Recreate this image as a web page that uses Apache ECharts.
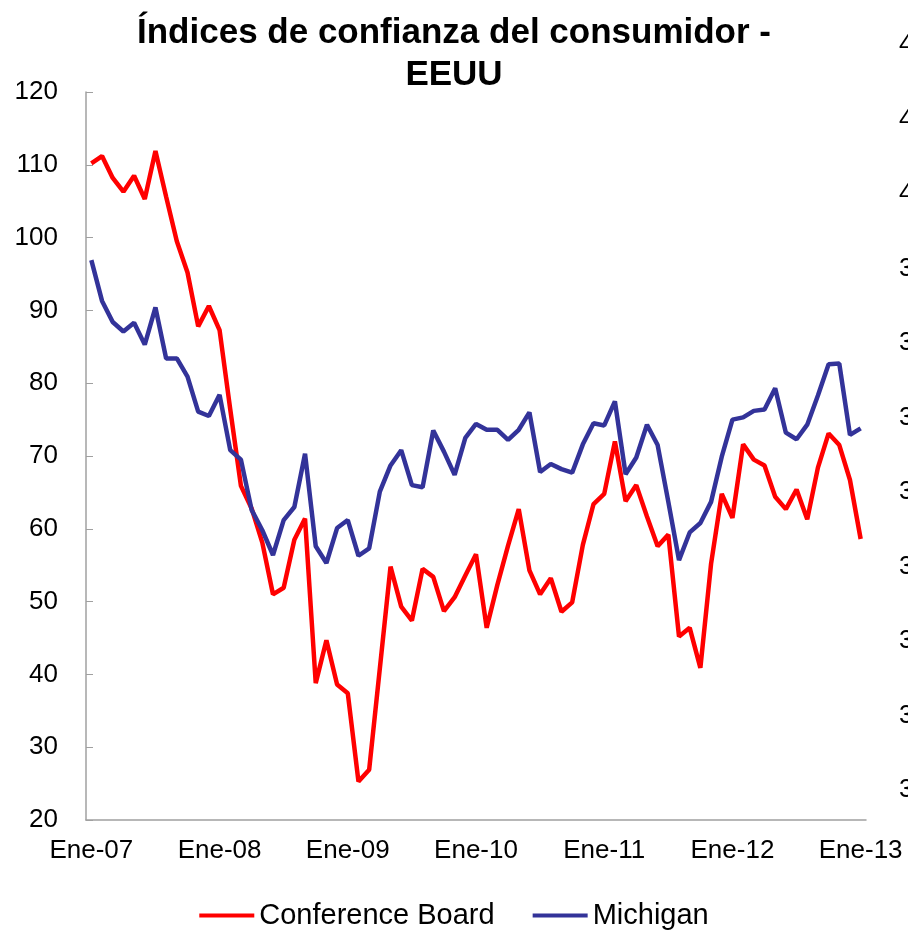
<!DOCTYPE html>
<html>
<head>
<meta charset="utf-8">
<title>Índices de confianza del consumidor - EEUU</title>
<script src="https://cdn.jsdelivr.net/npm/echarts@6/dist/echarts.min.js"></script>
<style>
  html, body { margin: 0; padding: 0; background: #fff; }
  #chart { width: 908px; height: 931px; }
</style>
</head>
<body>
<div id="chart"></div>
<script>
// meses de ene-07 a ene-13
var meses = ['Ene', 'Feb', 'Mar', 'Abr', 'May', 'Jun', 'Jul', 'Ago', 'Sep', 'Oct', 'Nov', 'Dic'];
var anios = ['07', '08', '09', '10', '11', '12', '13'];
var categorias = [];
anios.forEach(function (a) {
  meses.forEach(function (m) {
    categorias.push(m + '-' + a);
  });
});
categorias = categorias.slice(0, 73);

var conferenceBoard = [
  110.2, 111.2, 108.2, 106.3, 108.5, 105.3, 111.9, 105.6, 99.5, 95.2, 87.8, 90.6,
  87.3, 76.4, 65.9, 62.8, 58.1, 51.0, 51.9, 58.5, 61.4, 38.8, 44.7, 38.6,
  37.4, 25.3, 26.9, 40.8, 54.8, 49.3, 47.4, 54.5, 53.4, 48.7, 50.6, 53.6,
  56.5, 46.4, 52.3, 57.7, 62.7, 54.3, 51.0, 53.2, 48.6, 49.9, 57.8, 63.4,
  64.8, 72.0, 63.8, 66.0, 61.7, 57.6, 59.2, 45.2, 46.4, 40.9, 55.2, 64.8,
  61.5, 71.6, 69.5, 68.7, 64.4, 62.7, 65.4, 61.3, 68.4, 73.1, 71.5, 66.7,
  58.6
];

var michigan = [
  96.9, 91.3, 88.4, 87.1, 88.3, 85.3, 90.4, 83.4, 83.4, 80.9, 76.1, 75.5,
  78.4, 70.8, 69.5, 62.6, 59.8, 56.4, 61.2, 63.0, 70.3, 57.6, 55.3, 60.1,
  61.2, 56.3, 57.3, 65.1, 68.7, 70.8, 66.0, 65.7, 73.5, 70.6, 67.4, 72.5,
  74.4, 73.6, 73.6, 72.2, 73.6, 76.0, 67.8, 68.9, 68.2, 67.7, 71.6, 74.5,
  74.2, 77.5, 67.5, 69.8, 74.3, 71.5, 63.7, 55.7, 59.5, 60.8, 63.7, 69.9,
  75.0, 75.3, 76.2, 76.4, 79.3, 73.2, 72.3, 74.3, 78.3, 82.6, 82.7, 72.9,
  73.8
];

// etiquetas del grafico vecino que asoman cortadas por el borde derecho
var etiquetasVecino = ['42', '41', '40', '39', '38', '37', '36', '35', '34', '33', '32'];

var fuente = "'Liberation Sans', Arial, sans-serif";
var gris = '#a0a0a0';

var chart = echarts.init(document.getElementById('chart'), null, { renderer: 'canvas' });

var textosVecino = etiquetasVecino.map(function (t, i) {
  return {
    type: 'text',
    x: 899,
    y: 45 + i * 74.5,
    silent: true,
    style: {
      text: t,
      fill: '#000',
      font: '26px ' + fuente,
      verticalAlign: 'middle'
    }
  };
});

var option = {
  animation: false,
  backgroundColor: '#fff',
  title: {
    text: 'Índices de confianza del consumidor -\nEEUU',
    left: 'center',
    top: 7,
    textStyle: {
      fontFamily: fuente,
      fontWeight: 'bold',
      fontSize: 35,
      lineHeight: 42,
      color: '#000'
    }
  },
  legend: {
    bottom: -4,
    left: 'center',
    icon: 'rect',
    itemWidth: 55,
    itemHeight: 4,
    itemGap: 38,
    textStyle: {
      fontFamily: fuente,
      fontSize: 29,
      color: '#000'
    },
    data: ['Conference Board', 'Michigan']
  },
  grid: {
    left: 86,
    right: 42,
    top: 92,
    bottom: 111,
    containLabel: false
  },
  xAxis: {
    type: 'category',
    data: categorias,
    boundaryGap: true,
    axisLine: { lineStyle: { color: gris, width: 1.5 } },
    axisTick: { inside: true, length: 7, interval: 11, lineStyle: { color: gris } },
    axisLabel: {
      interval: 11,
      margin: 18,
      fontFamily: fuente,
      fontSize: 26,
      color: '#000'
    },
    splitLine: { show: false }
  },
  yAxis: {
    type: 'value',
    min: 20,
    max: 120,
    interval: 10,
    axisLine: { show: true, lineStyle: { color: gris, width: 1.5 } },
    axisTick: { show: true, inside: true, length: 7, lineStyle: { color: gris } },
    axisLabel: {
      margin: 28,
      fontFamily: fuente,
      fontSize: 26,
      color: '#000'
    },
    splitLine: { show: false }
  },
  series: [
    {
      name: 'Conference Board',
      type: 'line',
      data: conferenceBoard,
      symbol: 'none',
      color: '#ff0000',
      lineStyle: { color: '#ff0000', width: 4.5 }
    },
    {
      name: 'Michigan',
      type: 'line',
      data: michigan,
      symbol: 'none',
      color: '#333399',
      lineStyle: { color: '#333399', width: 4.5 }
    }
  ],
  graphic: textosVecino
};

chart.setOption(option);
</script>
</body>
</html>
